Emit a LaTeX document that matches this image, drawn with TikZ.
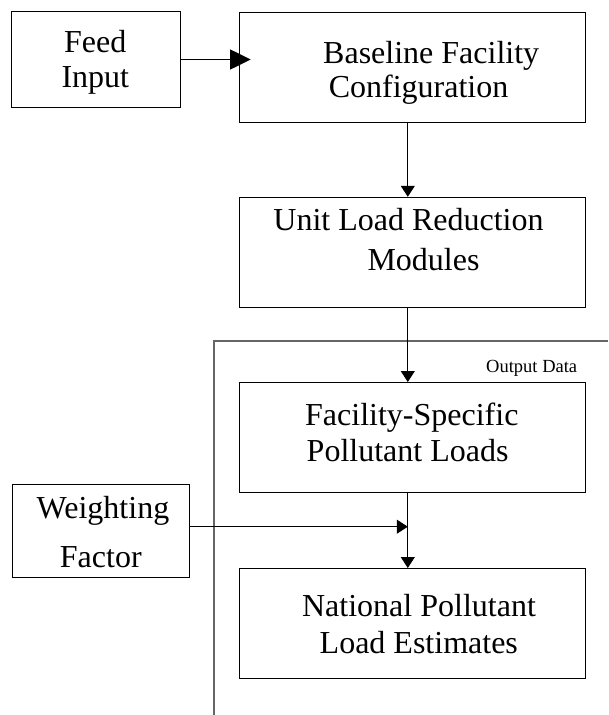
\documentclass[tikz,border=0pt]{standalone}
\usepackage{fontspec}
\setmainfont{Liberation Serif}
\usetikzlibrary{arrows.meta}
\begin{document}
\begin{tikzpicture}[x=1pt,y=-1pt,
  boxnode/.style={draw=black,line width=1pt,inner sep=0pt,rectangle},
  bigtxt/.style={anchor=base,inner sep=0pt,font=\fontsize{32}{34}\selectfont},
  smalltxt/.style={anchor=base,inner sep=0pt,font=\fontsize{18.5}{20}\selectfont},
  conn/.style={line width=1pt,draw=black},
  bighead/.style={conn,-{Triangle[length=20.5pt,width=20pt]}},
  smallhead/.style={conn,-{Triangle[length=11pt,width=14pt]}},
  framel/.style={line width=1.3pt,draw=black!60}
]
\useasboundingbox (0,0) rectangle (608,715);

% boxes
\node[boxnode,minimum width=168.3pt,minimum height=96pt] (feed) at (95.85,59.7) {};
\node[boxnode,minimum width=345.3pt,minimum height=109.7pt] (base) at (412.35,67.15) {};
\node[boxnode,minimum width=345.3pt,minimum height=110pt] (unit) at (412.35,252.3) {};
\node[boxnode,minimum width=345.5pt,minimum height=110.2pt] (fac) at (412.25,437.6) {};
\node[boxnode,minimum width=177pt,minimum height=93pt] (weight) at (100.5,530.8) {};
\node[boxnode,minimum width=345.7pt,minimum height=109.8pt] (nat) at (412.4,623.4) {};

% texts
\node[bigtxt] (feedA) at (95.2,52.7) {Feed};
\node[bigtxt] (feedB) at (95.3,87.3) {Input};
\node[bigtxt] (baseA) at (431.2,63.3) {Baseline Facility};
\node[bigtxt] (baseB) at (418.6,97.7) {Configuration};
\node[bigtxt] (unitA) at (408.5,230.8) {Unit Load Reduction};
\node[bigtxt] (unitB) at (423.5,270.7) {Modules};
\node[bigtxt] (facA) at (411.8,425) {Facility-Specific};
\node[bigtxt] (facB) at (407.6,461.7) {Pollutant Loads};
\node[bigtxt] (weightA) at (103,518.3) {Weighting};
\node[bigtxt] (weightB) at (100.8,567.3) {Factor};
\node[bigtxt] (natA) at (419,616.7) {National Pollutant};
\node[bigtxt] (natB) at (418.8,653) {Load Estimates};
\node[smalltxt] (outlbl) at (531.7,372) {Output Data};

% frame
\coordinate (frTop) at (608,341);
\coordinate (frCorner) at (214,341);
\coordinate (frBot) at (214,715);
\draw[framel] (frTop) -- (frCorner) -- (frBot);

% axis for vertical connectors
\coordinate (axis) at (407.8,0);
\coordinate (feedTip) at (250.7,59.5);
\coordinate (weightTip) at (407.8,526.7);

\draw[bighead] (feed.east |- feedTip) -- (feedTip);
\draw[smallhead] (base.south -| axis) -- (unit.north -| axis);
\draw[smallhead] (unit.south -| axis) -- (fac.north -| axis);
\draw[smallhead] (fac.south -| axis) -- (nat.north -| axis);
\draw[smallhead] (weight.east |- weightTip) -- (weightTip);
\end{tikzpicture}
\end{document}
